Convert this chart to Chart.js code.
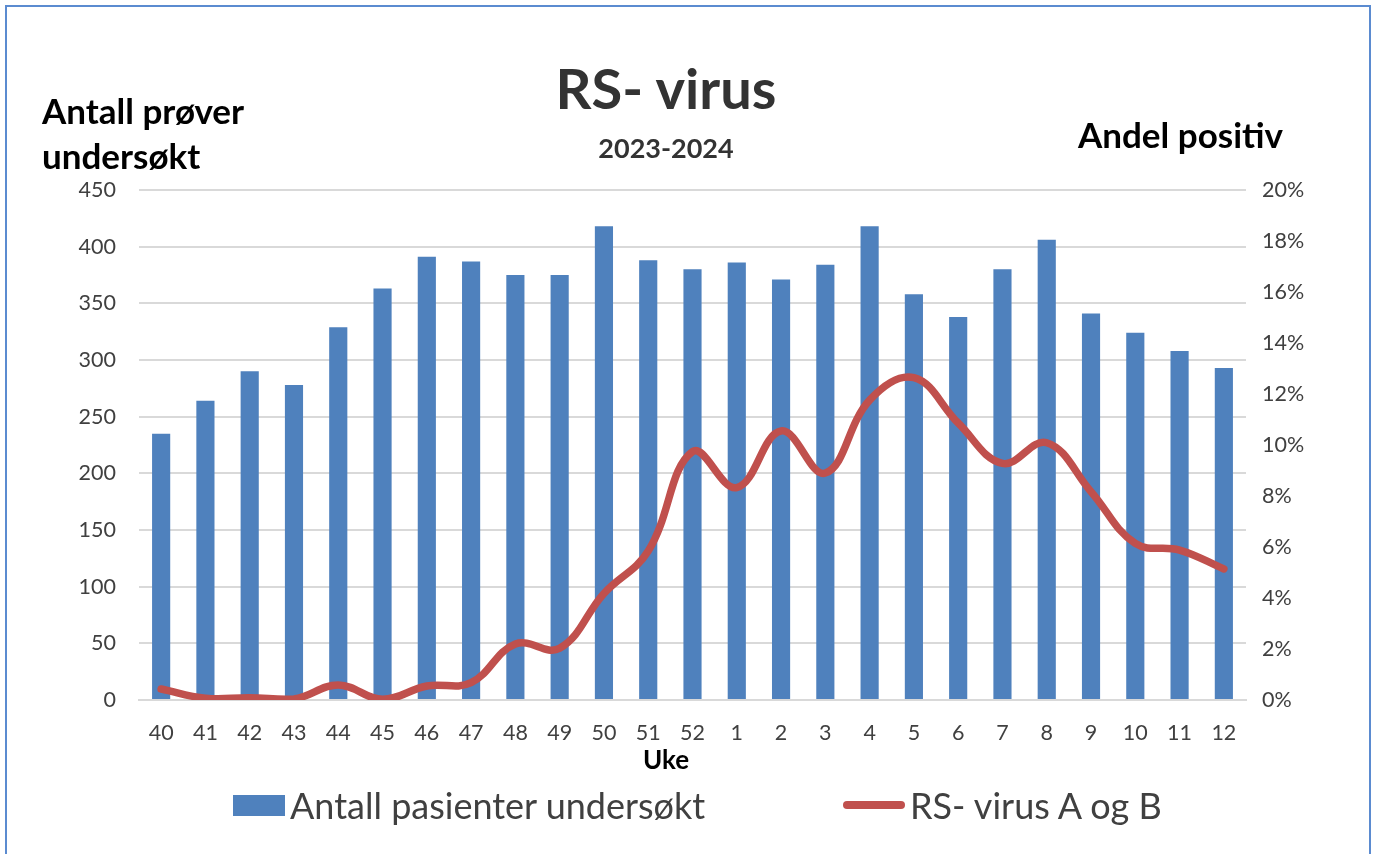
<!DOCTYPE html>
<html>
<head>
<meta charset="utf-8">
<script src="https://cdn.jsdelivr.net/npm/chart.js@4.4.0/dist/chart.umd.min.js"></script>
<style>
    html, body { margin: 0; padding: 0; background: #fff; }
    body { width: 1378px; height: 854px; position: relative; overflow: hidden; font-family: Lato, "Open Sans", sans-serif; }
    .frame { position: absolute; left: 5px; top: 5px; width: 1366px; height: 900px; border: 2px solid #5B8BD0; box-sizing: border-box; }
    #chartWrap { position: absolute; left: 0; top: 0; width: 1378px; height: 854px; }
    .txt { position: absolute; white-space: nowrap; }
    .title { left: 0; width: 1332px; text-align: center; top: 54px; font-size: 56px; font-weight: 700; color: #333; }
    .subtitle { left: 0; width: 1332px; text-align: center; top: 131px; font-size: 27px; font-weight: 700; color: #333; }
    .leftTitle { left: 42px; top: 88px; font-size: 35px; font-weight: 700; color: #000; line-height: 45px; }
    .rightTitle { left: 1078px; top: 113px; font-size: 35px; font-weight: 700; color: #000; }
    .xTitle { left: 0; width: 1332px; text-align: center; top: 743px; font-size: 26px; font-weight: 700; color: #000; }
    .legend-item { position: absolute; top: 784px; height: 42px; display: flex; align-items: center; font-size: 36px; color: #404040; }
    .legend-item .sw { margin-right: 5px; }
</style>
</head>
<body>
<div class="frame"></div>
<div id="chartWrap"><canvas id="rsvChart" width="1378" height="854"></canvas></div>
<div class="txt title">RS- virus</div>
<div class="txt subtitle">2023-2024</div>
<div class="txt leftTitle">Antall prøver<br>undersøkt</div>
<div class="txt rightTitle">Andel positiv</div>
<div class="txt xTitle">Uke</div>
<div id="legend"></div>

<script>
// ============================================
// RS-virus 2023-2024
// ============================================

const weeks = ['40', '41', '42', '43', '44', '45', '46', '47', '48', '49', '50', '51', '52',
               '1', '2', '3', '4', '5', '6', '7', '8', '9', '10', '11', '12'];

// Antall pasienter undersøkt (venstre akse)
const antallUndersokt = [235, 264, 290, 278, 329, 363, 391, 387, 375, 375, 418, 388, 380,
                         386, 371, 384, 418, 358, 338, 380, 406, 341, 324, 308, 293];

// RS- virus A og B, andel positiv i prosent (hoyre akse)
const andelPositiv = [0.43, 0.07, 0.09, 0.04, 0.59, 0.03, 0.55, 0.68, 2.2, 2.03, 4.18, 5.84, 9.74,
                      8.33, 10.55, 8.9, 11.76, 12.64, 10.86, 9.28, 10.09, 8.17, 6.14, 5.88, 5.14];

const leftTicks = { min: 0, max: 450, step: 50 };
const rightTicks = { min: 0, max: 20, step: 2 };

const seriesNames = ['Antall pasienter undersøkt', 'RS- virus A og B'];

const BLUE = '#4F81BD';
const RED = '#C0504D';
const tickFont = { family: 'Lato', size: 21.5 };

const ctx = document.getElementById('rsvChart').getContext('2d');

const rsvChart = new Chart(ctx, {
    type: 'bar',
    data: {
        labels: weeks,
        datasets: [
            {
                type: 'bar',
                label: seriesNames[0],
                data: antallUndersokt,
                backgroundColor: BLUE,
                borderWidth: 0,
                categoryPercentage: 1,
                barPercentage: 0.41,
                yAxisID: 'y',
                order: 2
            },
            {
                type: 'line',
                label: seriesNames[1],
                data: andelPositiv,
                borderColor: RED,
                backgroundColor: RED,
                borderWidth: 7.5,
                borderCapStyle: 'round',
                borderJoinStyle: 'round',
                tension: 0.4,
                pointRadius: 0,
                fill: false,
                yAxisID: 'y1',
                order: 1
            }
        ]
    },
    options: {
        responsive: false,
        animation: false,
        layout: {
            padding: { left: 40, right: 50, top: 190, bottom: 74 }
        },
        plugins: {
            legend: { display: false },
            tooltip: { enabled: false }
        },
        scales: {
            x: {
                grid: { display: false },
                border: { display: true, color: '#D9D9D9', width: 2 },
                ticks: { color: '#404040', font: tickFont, padding: 12, maxRotation: 0 },
                afterFit: function(scale) { scale.height = 80; }
            },
            y: {
                position: 'left',
                min: leftTicks.min,
                max: leftTicks.max,
                ticks: { stepSize: leftTicks.step, color: '#404040', font: tickFont, padding: 23 },
                grid: { color: '#D9D9D9', lineWidth: 2, drawTicks: false },
                border: { display: false },
                afterFit: function(scale) { scale.width = 99; }
            },
            y1: {
                position: 'right',
                min: rightTicks.min,
                max: rightTicks.max,
                ticks: {
                    stepSize: rightTicks.step,
                    color: '#404040',
                    font: tickFont,
                    padding: 16,
                    callback: function(value) { return value + '%'; }
                },
                grid: { display: false, drawTicks: false },
                border: { display: false },
                afterFit: function(scale) { scale.width = 82; }
            }
        }
    }
});

// HTML legend built from the datasets
function renderLegend(chart) {
    const container = document.getElementById('legend');
    const lefts = [233, 843];
    container.innerHTML = chart.data.datasets.map((ds, i) => {
        const sw = ds.type === 'line'
            ? `<span class="sw" style="display:inline-block;width:62px;height:8px;border-radius:4px;background:${ds.borderColor}"></span>`
            : `<span class="sw" style="display:inline-block;width:52px;height:21px;background:${ds.backgroundColor}"></span>`;
        return `<div class="legend-item" style="left:${lefts[i]}px">${sw}<span>${ds.label}</span></div>`;
    }).join('');
}

renderLegend(rsvChart);
</script>
</body>
</html>
